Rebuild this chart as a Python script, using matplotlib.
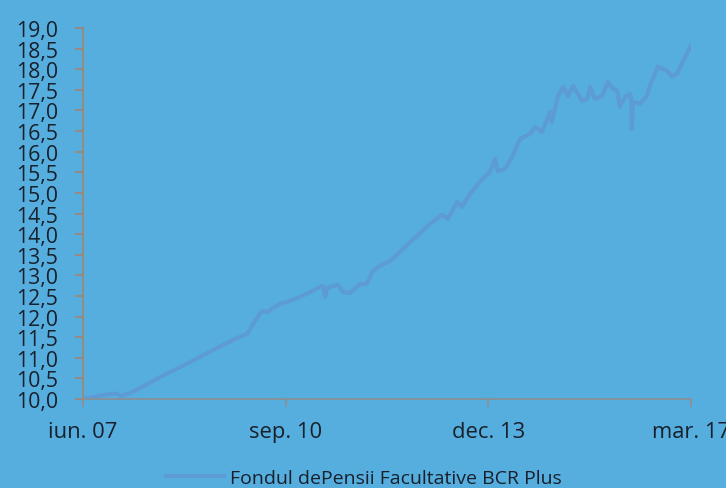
import matplotlib
matplotlib.use("Agg")
import matplotlib.pyplot as plt
from matplotlib.ticker import FuncFormatter

plt.rcParams["font.family"] = ["Open Sans", "DejaVu Sans"]

# months since iun. 07 and unit value
months = [
    0, 2.5, 5.2, 6.5, 7.1, 9.0, 11.5, 14.8, 18.5, 22.5, 26.0, 29.5, 31.6,
    32.5, 34.4, 35.4, 37.9, 39.8, 41.8, 43.5, 45.6, 46.2, 46.6, 47.0, 49.1,
    50.0, 51.4, 53.3, 54.6, 55.8, 57.1, 59.1, 61.0, 62.5, 64.3, 66.8, 69.1,
    70.2, 72.0, 72.9, 74.5, 76.4, 78.3, 79.3, 79.8, 81.2, 82.7, 84.1, 86.0,
    87.0, 88.3, 89.9, 90.2, 91.4, 92.4, 93.3, 94.3, 96.0, 97.0, 97.6, 98.5,
    99.9, 101.0, 102.0, 102.8, 103.3, 104.3, 105.3, 105.5, 105.6, 105.8,
    107.2, 108.5, 109.1, 110.6, 112.4, 113.3, 114.3, 115.4, 117.0,
]
values = [
    10.00, 10.06, 10.12, 10.13, 10.07, 10.14, 10.30, 10.53, 10.76, 11.02,
    11.25, 11.47, 11.58, 11.77, 12.14, 12.11, 12.31, 12.38, 12.48, 12.58,
    12.72, 12.74, 12.48, 12.70, 12.77, 12.60, 12.57, 12.79, 12.79, 13.11,
    13.23, 13.35, 13.57, 13.75, 13.96, 14.25, 14.47, 14.37, 14.78, 14.66,
    14.98, 15.27, 15.51, 15.83, 15.53, 15.58, 15.90, 16.31, 16.43, 16.60,
    16.48, 16.97, 16.72, 17.35, 17.57, 17.35, 17.60, 17.23, 17.28, 17.57,
    17.28, 17.35, 17.69, 17.52, 17.48, 17.09, 17.33, 17.40, 17.30, 16.55,
    17.21, 17.16, 17.35, 17.60, 18.06, 17.96, 17.82, 17.89, 18.18, 18.57,
]
tick_months = [0, 39, 78, 117]
tick_labels = ["iun. 07", "sep. 10", "dec. 13", "mar. 17"]
series_name = "Fondul dePensii Facultative BCR Plus"

BG = "#56aedf"
LINE = "#5d9bd6"
TEXT = "#17202b"

fig = plt.figure(figsize=(7.26, 4.89), dpi=100, facecolor=BG)
ax = fig.add_axes([83 / 726, 1 - 400 / 489, 608 / 726, 371 / 489])
ax.set_facecolor(BG)

ax.plot(months, values, color=LINE, linewidth=3.0, solid_joinstyle="round",
        label=series_name)

ax.set_xlim(0, 117)
ax.set_ylim(10, 19)
ax.set_yticks([10 + 0.5 * i for i in range(19)])
ax.yaxis.set_major_formatter(FuncFormatter(lambda v, p: f"{v:.1f}".replace(".", ",")))
ax.set_xticks(tick_months)
ax.set_xticklabels(tick_labels)

for s in ["top", "right"]:
    ax.spines[s].set_visible(False)
ax.spines["left"].set_color("#a08472")
ax.spines["bottom"].set_color("#8e8e8e")
ax.spines["left"].set_linewidth(1.2)
ax.spines["bottom"].set_linewidth(1.2)

ax.tick_params(axis="y", colors="#a08472", length=6, width=1.2, pad=12,
               labelcolor=TEXT, labelsize=15.3)
ax.tick_params(axis="x", colors="#8e8e8e", length=6, width=1.2, pad=10,
               labelcolor=TEXT, labelsize=15.8)

# legend sits at the bottom edge, partly cut like in the source
fig.legend(loc="center", bbox_to_anchor=(363.5 / 726, 1 - 479 / 489),
           frameon=False, fontsize=14, handlelength=3.0, handletextpad=0.3,
           labelcolor=TEXT)

fig.savefig("out.png", dpi=100, facecolor=BG)
